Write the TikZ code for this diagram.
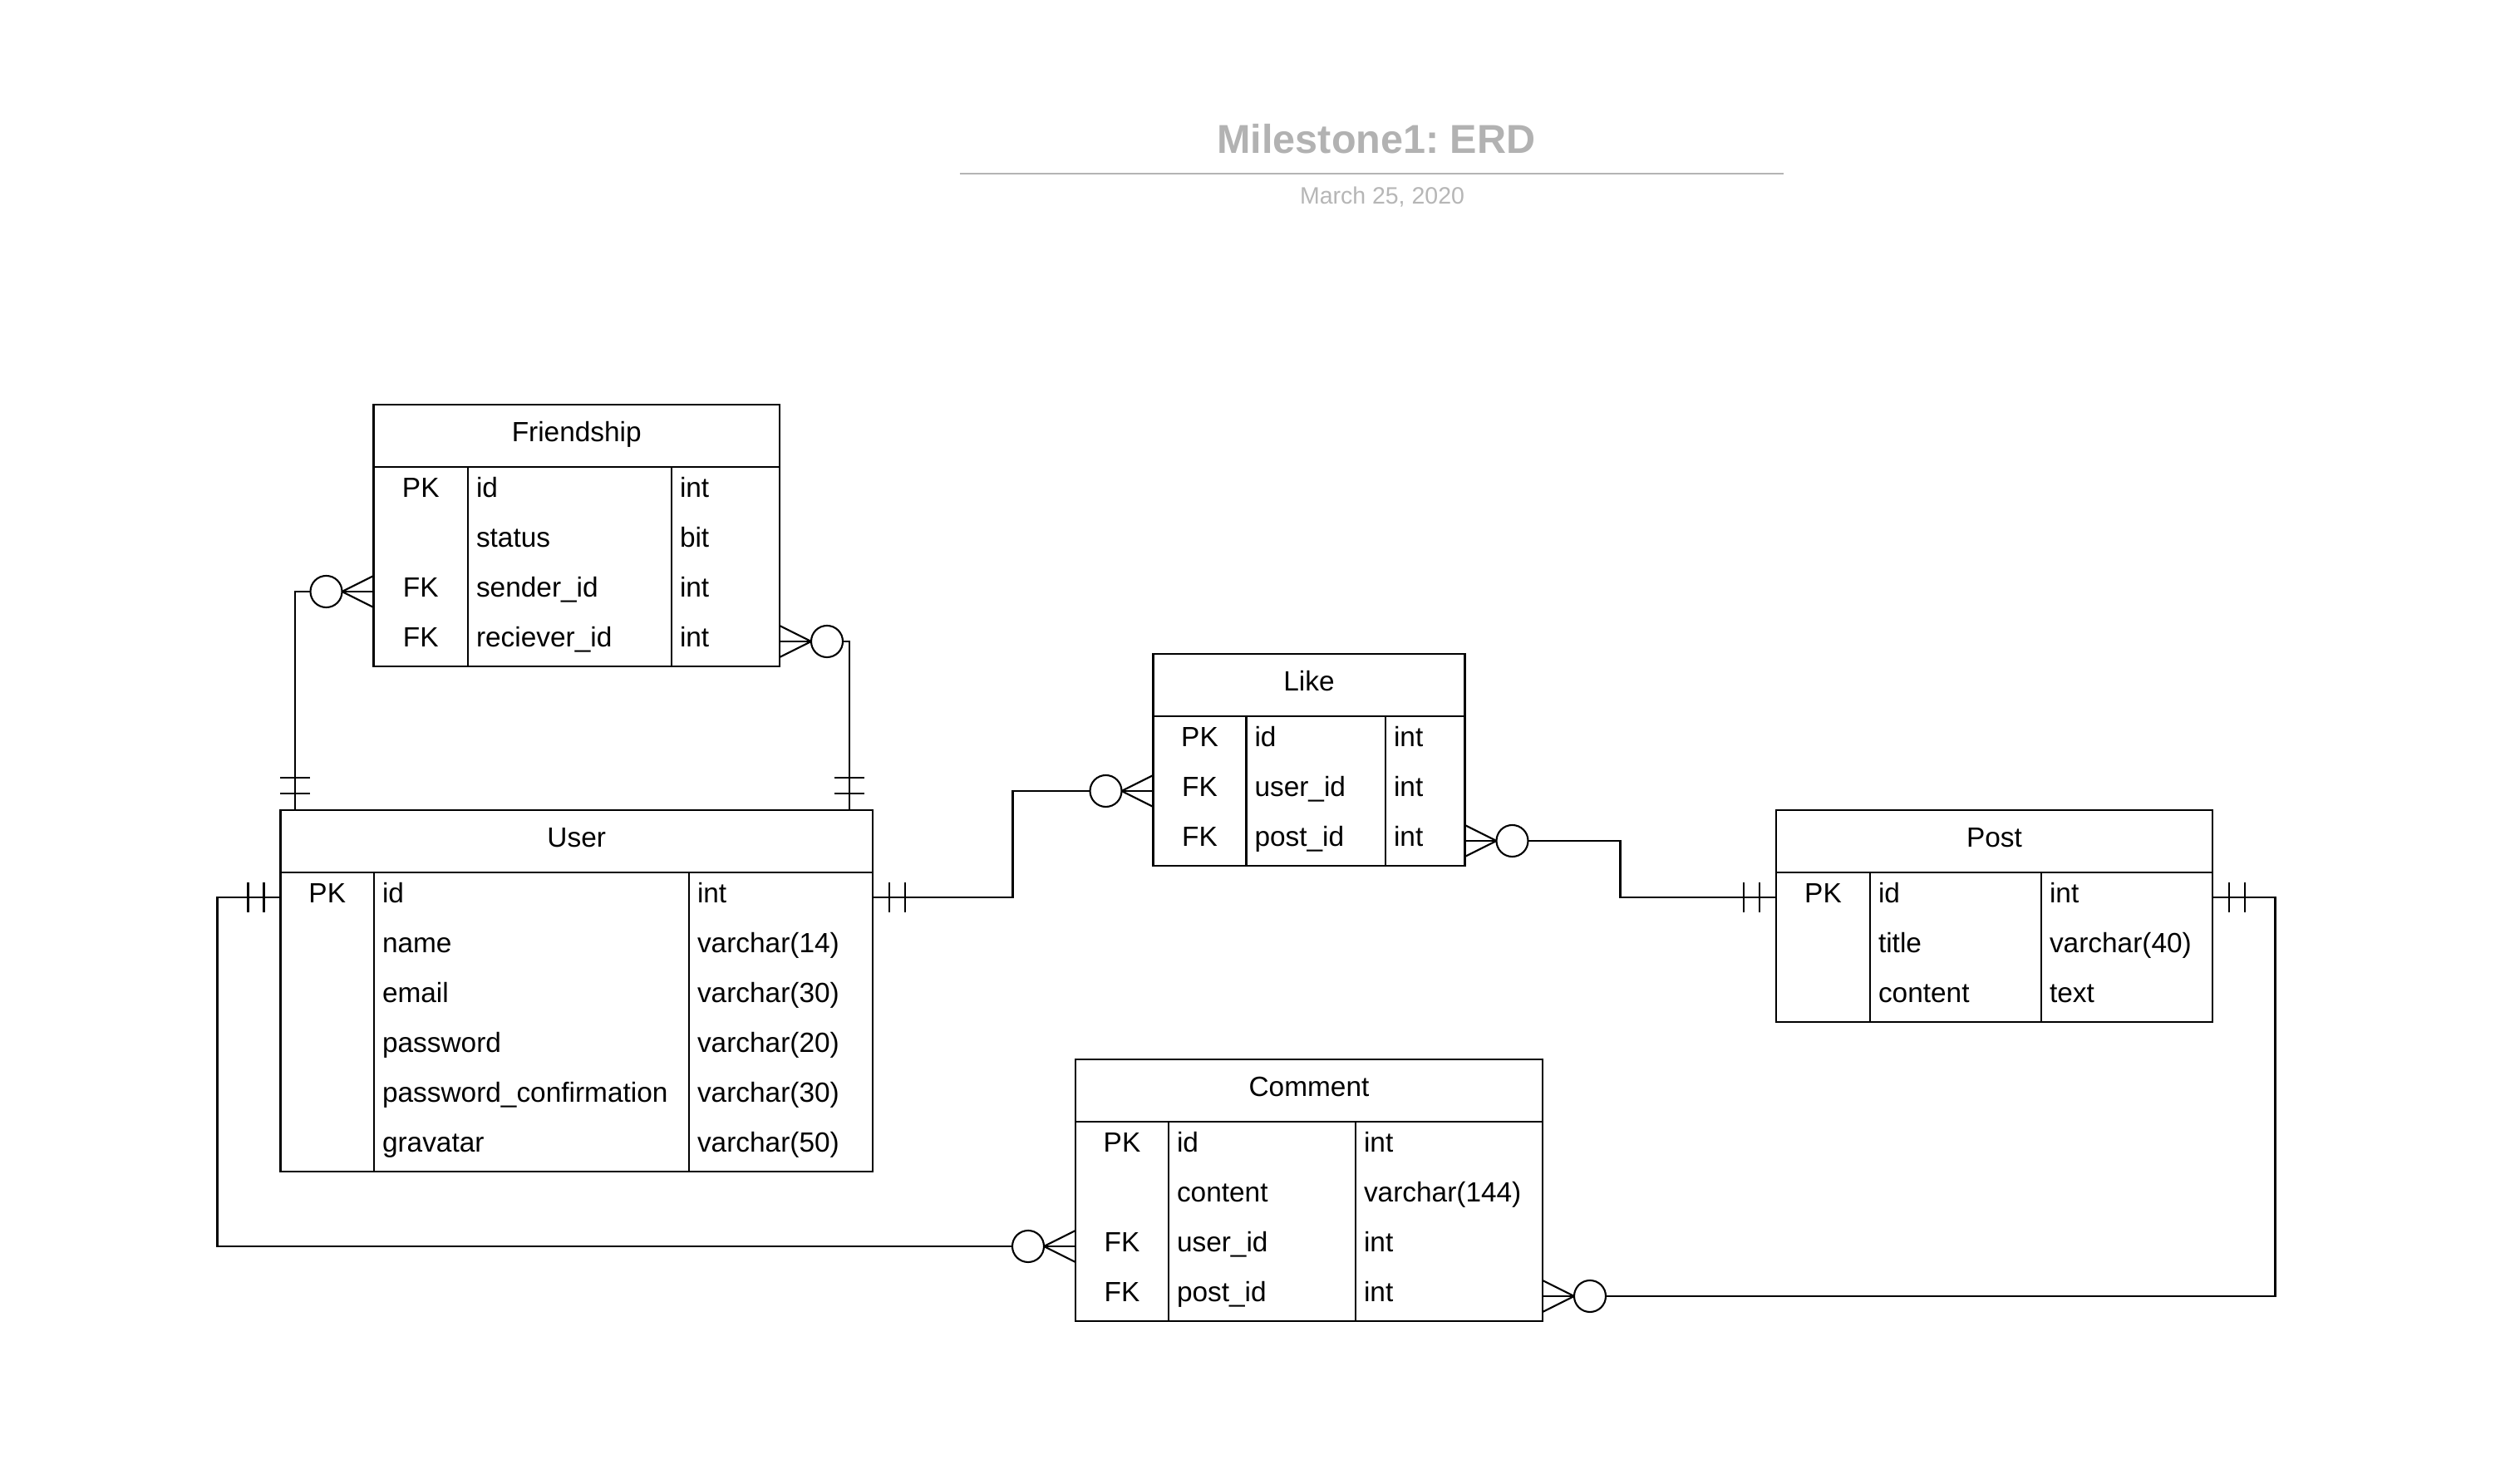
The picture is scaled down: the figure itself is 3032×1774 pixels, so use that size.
\documentclass[tikz,border=0pt]{standalone}
\usepackage{fontspec}
\setmainfont{Liberation Sans}
\usetikzlibrary{fit}
\frenchspacing
\definecolor{titlegray}{RGB}{178,178,178}
\definecolor{dategray}{RGB}{182,182,182}
\definecolor{rulegray}{RGB}{180,180,180}

\tikzset{
  erdline/.style={line width=0.6pt, black},
  tbl/.style={draw, line width=0.6pt, inner sep=0pt, outer sep=0pt},
  txt/.style={inner sep=0pt, outer sep=0pt, font=\fontsize{9.5pt}{11pt}\selectfont},
  conn/.style={line width=0.6pt, black},
}

% #1 name, #2 left, #3 top, #4 right, #5 col1, #6 col2, #7 rows, #8 title, #9 rows list
\newcommand\erdtable[9]{%
  \pgfmathsetmacro\tbot{#3+75+60*#7}
  \node[tbl, fit={(#2,#3)(#4,\tbot)}] (#1) {};
  \draw[erdline] (#2,{#3+75}) -- (#4,{#3+75});
  \draw[erdline] (#5,{#3+75}) -- (#5,\tbot);
  \draw[erdline] (#6,{#3+75}) -- (#6,\tbot);
  \node[txt, anchor=base] (#1-t) at ({(#2+#4)/2},{#3+45}) {#8};
  \foreach \k/\n/\t [count=\i] in {#9} {
    \node[txt, anchor=base] (#1-k\i) at ({(#2+#5)/2},{#3+52+60*\i}) {\k};
    \node[txt, anchor=base west] (#1-n\i) at ({#5+10},{#3+52+60*\i}) {\n};
    \node[txt, anchor=base west] (#1-y\i) at ({#6+10},{#3+52+60*\i}) {\t};
    \coordinate (#1-\i-w) at (#2,{#3+45+60*\i});
    \coordinate (#1-\i-e) at (#4,{#3+45+60*\i});
  }
}

\newcommand\zmany[2]{%
  \begin{scope}[shift={(#1)}, rotate=#2]
    \draw[conn] (0,-19) -- (38,0) -- (0,19);
    \draw[conn, fill=white] (57,0) circle[radius=0.19cm];
  \end{scope}}

\newcommand\oneone[2]{%
  \begin{scope}[shift={(#1)}, rotate=#2]
    \draw[conn] (20,-18) -- (20,18) (39,-18) -- (39,18);
  \end{scope}}

\begin{document}
\begin{tikzpicture}[x=0.01cm, y=-0.01cm]
\useasboundingbox[fill=white] (0,0) rectangle (3032,1774);

% title
\node[inner sep=0pt, anchor=base, text=titlegray, font=\fontsize{13.8pt}{16pt}\selectfont\bfseries] (title) at (1656,185) {Milestone1: ERD};
\draw[rulegray, line width=0.77pt] (1154.6,209) -- (2146,209);
\node[inner sep=0pt, anchor=base, text=dategray, font=\fontsize{8.1pt}{10pt}\selectfont] (date) at (1663,246) {March 25, 2020};

% tables
\erdtable{friendship}{449.5}{487}{938}{563}{808}{4}{Friendship}{PK/id/int, /status/bit, FK/sender\_id/int, FK/reciever\_id/int}
\erdtable{user}{337.5}{975}{1050}{450}{829}{6}{User}{PK/id/int, /name/varchar(14), /email/varchar(30), /password/varchar(20), /password\_confirmation/varchar(30), /gravatar/varchar(50)}
\erdtable{like}{1387.5}{787}{1762.5}{1499.5}{1667}{3}{Like}{PK/id/int, FK/user\_id/int, FK/post\_id/int}
\erdtable{post}{2137}{975}{2662}{2250}{2456}{3}{Post}{PK/id/int, /title/varchar(40), /content/text}
\erdtable{comment}{1294}{1275}{1856}{1406}{1631}{4}{Comment}{PK/id/int, /content/varchar(144), FK/user\_id/int, FK/post\_id/int}

\coordinate (ut1) at ([xshift=0.175cm]user.north west);
\coordinate (ut2) at ([xshift=-0.28cm]user.north east);

% connectors
\draw[conn] (friendship-3-w) -| (ut1);
\draw[conn] (friendship-4-e) -| (ut2);
\draw[conn] (user-1-w) -- (261.5,1080) |- (comment-3-w);
\draw[conn] (user-1-e) -- (1218.5,1080) |- (like-2-w);
\draw[conn] (like-3-e) -- (1949.5,1012) |- (post-1-w);
\draw[conn] (post-1-e) -- (2737.5,1080) |- (comment-4-e);

% end symbols
\zmany{friendship-3-w}{180}
\zmany{friendship-4-e}{0}
\oneone{ut1}{90}
\oneone{ut2}{90}
\oneone{user-1-w}{180}
\zmany{comment-3-w}{180}
\oneone{user-1-e}{0}
\zmany{like-2-w}{180}
\zmany{like-3-e}{0}
\oneone{post-1-w}{180}
\oneone{post-1-e}{0}
\zmany{comment-4-e}{0}
\end{tikzpicture}
\end{document}
